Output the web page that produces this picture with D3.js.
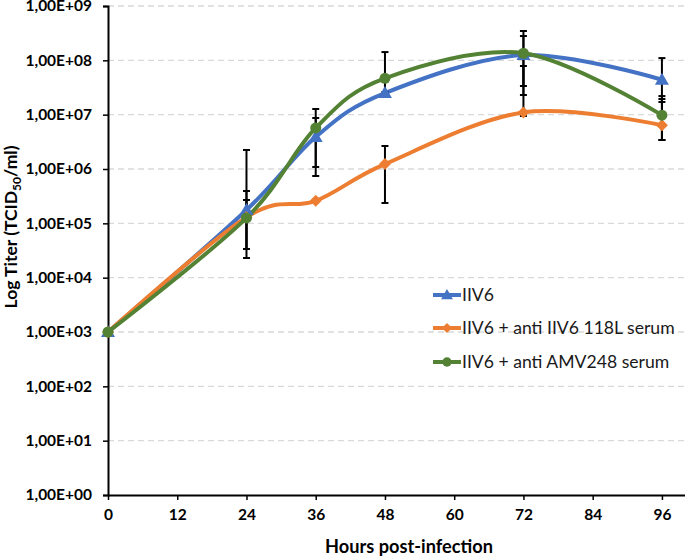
<!DOCTYPE html>
<html><head><meta charset="utf-8">
<script src="https://cdn.jsdelivr.net/npm/d3@7"></script>
<style>body{margin:0;background:#fff;}svg{display:block;}</style>
</head><body>
<svg id="c" width="685" height="557"></svg>
<script>
const hours = [0, 24, 36, 48, 72, 96];
const xTicks = [0, 12, 24, 36, 48, 60, 72, 84, 96];
const yTicks = [1e0, 1e1, 1e2, 1e3, 1e4, 1e5, 1e6, 1e7, 1e8, 1e9];
const seriesNames = ["IIV6", "IIV6 + anti IIV6 118L serum", "IIV6 + anti AMV248 serum"];
const seriesColors = ["#4472C4", "#ED7D31", "#548235"];
const seriesShapes = ["triangle", "diamond", "circle"];

const iiv6 = [1.0e3, 1.76e5, 3.9e6, 2.5e7, 1.25e8, 4.4e7];
const iiv6Up = [null, 2.24e6, 8.68e6, null, 2.80e8, 1.10e8];
const iiv6Lo = [null, 2.30e4, 1.09e6, null, 3.37e7, 1.71e7];

const anti118 = [1.0e3, 1.3e5, 2.6e5, 1.23e6, 1.1e7, 6.4e6];
const anti118Up = [null, 3.94e5, null, 2.65e6, 7.87e7, 1.94e7];
const anti118Lo = [null, 3.37e4, null, 2.37e5, 9.45e6, 3.42e6];

const antiAMV = [1.0e3, 1.26e5, 5.7e6, 4.67e7, 1.35e8, 9.8e6];
const antiAMVUp = [null, 2.69e5, 1.27e7, 1.42e8, 3.47e8, 2.20e7];
const antiAMVLo = [null, 3.37e4, 7.43e5, 2.61e7, 2.30e7, 3.42e6];

const values = [iiv6, anti118, antiAMV];
const ups = [iiv6Up, anti118Up, antiAMVUp];
const los = [iiv6Lo, anti118Lo, antiAMVLo];

const svg = d3.select("#c");
const x = d3.scaleLinear().domain([0, 100]).range([108, 685]);
const y = d3.scaleLog().domain([1, 1e9]).range([495, 6]);
const font = "Lato, 'Open Sans', sans-serif";

// grid
svg.append("g").selectAll("line").data(yTicks.slice(1)).join("line")
  .attr("x1", 108).attr("x2", 685)
  .attr("y1", d => y(d)).attr("y2", d => y(d))
  .attr("stroke", "#d9d9d9").attr("stroke-width", 1.3).attr("stroke-dasharray", "6,4");

// y axis
const yAxis = svg.append("g").attr("transform", "translate(108,0)")
  .call(d3.axisLeft(y).tickValues(yTicks).tickSize(5).tickFormat(d => "1,00E+" + String(Math.round(Math.log10(d))).padStart(2, "0")));
yAxis.select(".domain").attr("stroke", "#000").attr("stroke-width", 2);
yAxis.selectAll(".tick line").attr("stroke", "#000").attr("stroke-width", 1.5);
yAxis.selectAll("text").attr("font-family", font).attr("font-weight", "bold").attr("font-size", 15.5).attr("fill", "#000").attr("x", -16);

// x axis
const xAxis = svg.append("g").attr("transform", "translate(0,495)")
  .call(d3.axisBottom(x).tickValues(xTicks).tickSize(5).tickSizeOuter(0));
xAxis.select(".domain").attr("stroke", "#000").attr("stroke-width", 2);
xAxis.selectAll(".tick line").attr("stroke", "#000").attr("stroke-width", 1.5);
xAxis.selectAll("text").attr("font-family", font).attr("font-weight", "bold").attr("font-size", 15.5).attr("fill", "#000").attr("y", 14);

// titles
svg.append("text").attr("x", 409).attr("y", 553).attr("text-anchor", "middle")
  .attr("font-family", font).attr("font-weight", "bold").attr("font-size", 18.2).text("Hours post-infection");
const yt = svg.append("text").attr("transform", "translate(17,227) rotate(-90)").attr("text-anchor", "middle")
  .attr("font-family", font).attr("font-weight", "bold").attr("font-size", 17.5);
yt.append("tspan").text("Log Titer (TCID");
yt.append("tspan").attr("font-size", 12).attr("dy", 4).text("50");
yt.append("tspan").attr("dy", -4).text("/ml)");

const line = d3.line().x((d, i) => x(hours[i])).y(d => y(d)).curve(d3.curveCatmullRom.alpha(0));

// lines
values.forEach((vals, s) => {
  svg.append("path").attr("d", line(vals)).attr("fill", "none")
    .attr("stroke", seriesColors[s]).attr("stroke-width", 4).attr("stroke-linejoin", "round");
});

// error bars
values.forEach((vals, s) => {
  hours.forEach((h, i) => {
    const up = ups[s][i], lo = los[s][i];
    if (up == null) return;
    const g = svg.append("g").attr("stroke", "#000").attr("stroke-width", 2);
    g.append("line").attr("x1", x(h)).attr("x2", x(h)).attr("y1", y(up)).attr("y2", y(lo));
    [up, lo].forEach(v => g.append("line").attr("x1", x(h) - 3.5).attr("x2", x(h) + 3.5).attr("y1", y(v)).attr("y2", y(v)));
  });
});

// markers
function marker(g, shape, cx, cy, color, scale) {
  const k = scale || 1;
  if (shape === "triangle") {
    g.append("path").attr("d", `M${cx},${cy - 7 * k}L${cx + 7 * k},${cy + 5 * k}L${cx - 7 * k},${cy + 5 * k}Z`).attr("fill", color);
  } else if (shape === "diamond") {
    g.append("path").attr("d", `M${cx},${cy - 6 * k}L${cx + 6 * k},${cy}L${cx},${cy + 6 * k}L${cx - 6 * k},${cy}Z`).attr("fill", color);
  } else {
    g.append("circle").attr("cx", cx).attr("cy", cy).attr("r", 5.5 * k).attr("fill", color);
  }
}
values.forEach((vals, s) => {
  const g = svg.append("g");
  vals.forEach((v, i) => marker(g, seriesShapes[s], x(hours[i]), y(v), seriesColors[s]));
});

// legend
const legY = [295, 328, 362];
seriesNames.forEach((name, s) => {
  const g = svg.append("g");
  g.append("line").attr("x1", 433).attr("x2", 461).attr("y1", legY[s]).attr("y2", legY[s])
    .attr("stroke", seriesColors[s]).attr("stroke-width", 4);
  marker(g, seriesShapes[s], 447, legY[s], seriesColors[s], 0.85);
  g.append("text").attr("x", 462).attr("y", legY[s]).attr("dy", "0.35em")
    .attr("font-family", font).attr("font-size", 17.6).attr("fill", "#1a1a1a").text(name);
});
</script>
</body></html>
